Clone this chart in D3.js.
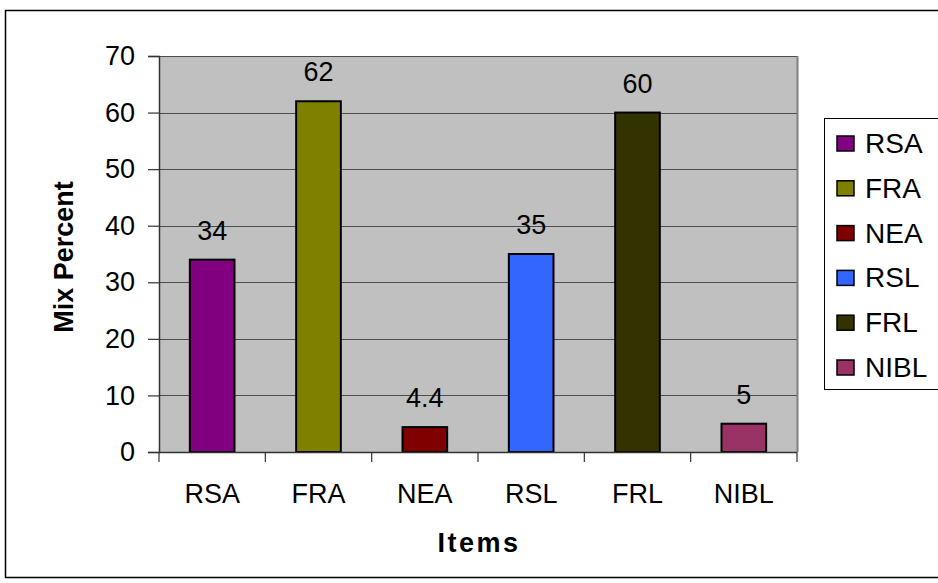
<!DOCTYPE html>
<html>
<head>
<meta charset="utf-8">
<script src="https://cdn.jsdelivr.net/npm/d3@7"></script>
<style>
  html, body { margin: 0; padding: 0; background: #fff; }
  svg { display: block; font-family: "Liberation Sans", Arial, sans-serif; }
</style>
</head>
<body>
<svg id="chart" width="938" height="583"></svg>
<script>
// Mix percentage per item
const categories = ["RSA", "FRA", "NEA", "RSL", "FRL", "NIBL"];
const values = [34, 62, 4.4, 35, 60, 5];
const colors = ["#800080", "#808000", "#800000", "#3366ff", "#333300", "#993366"];
const yTicks = [0, 10, 20, 30, 40, 50, 60, 70];

const FS = 27;
const svg = d3.select("#chart");
const plot = { left: 159, right: 797, top: 56, bottom: 452 };

// outer frame
svg.append("rect")
  .attr("x", 5.5).attr("y", 10.5).attr("width", 940).attr("height", 567)
  .attr("fill", "#fff").attr("stroke", "#000").attr("stroke-width", 1.5);

const x = d3.scaleBand().domain(categories).range([plot.left, plot.right]).paddingInner(0).paddingOuter(0);
const y = d3.scaleLinear().domain([0, 70]).range([plot.bottom, plot.top]);

// plot background
svg.append("rect")
  .attr("x", plot.left).attr("y", plot.top)
  .attr("width", plot.right - plot.left).attr("height", plot.bottom - plot.top)
  .attr("fill", "#c0c0c0");

// gridlines
svg.append("g").selectAll("line").data(yTicks.slice(1)).join("line")
  .attr("x1", plot.left).attr("x2", plot.right)
  .attr("y1", d => Math.round(y(d)) + 0.5).attr("y2", d => Math.round(y(d)) + 0.5)
  .attr("stroke", "#4d4d4d").attr("stroke-width", 1.2);

// right border of plot area
svg.append("line")
  .attr("x1", plot.right + 0.5).attr("x2", plot.right + 0.5)
  .attr("y1", plot.top).attr("y2", plot.bottom)
  .attr("stroke", "#808080").attr("stroke-width", 2);

// bars
const barW = x.bandwidth() * 0.42;
svg.append("g").selectAll("rect").data(categories).join("rect")
  .attr("x", d => x(d) + (x.bandwidth() - barW) / 2)
  .attr("y", (d, i) => y(values[i]))
  .attr("width", barW)
  .attr("height", (d, i) => y(0) - y(values[i]))
  .attr("fill", (d, i) => colors[i])
  .attr("stroke", "#000").attr("stroke-width", 2);

// value labels
svg.append("g").selectAll("text").data(categories).join("text")
  .attr("x", d => x(d) + x.bandwidth() / 2)
  .attr("y", (d, i) => y(values[i]) - 20)
  .attr("text-anchor", "middle")
  .attr("font-size", FS)
  .attr("fill", "#000")
  .text((d, i) => values[i]);

// y axis
const yAxis = d3.axisLeft(y).tickValues(yTicks).tickSize(11).tickPadding(13).tickFormat(d3.format("d"));
const gy = svg.append("g").attr("transform", `translate(${plot.left},0)`).call(yAxis);
gy.select(".domain").attr("stroke", "#333").attr("stroke-width", 1.5);
gy.selectAll(".tick line").attr("stroke", "#333").attr("stroke-width", 1.2);
gy.selectAll(".tick text").attr("font-size", FS).attr("fill", "#000")
  .attr("font-family", "Liberation Sans, Arial, sans-serif");

// x axis: ticks sit on the category boundaries
const gx = svg.append("g").attr("transform", `translate(0,${plot.bottom})`);
gx.append("line").attr("x1", plot.left).attr("x2", plot.right)
  .attr("y1", 0.5).attr("y2", 0.5).attr("stroke", "#333").attr("stroke-width", 1.5);
const boundaries = categories.map(c => x(c)).concat([plot.right]);
gx.selectAll("line.tk").data(boundaries).join("line").attr("class", "tk")
  .attr("x1", d => d).attr("x2", d => d).attr("y1", 0).attr("y2", 10)
  .attr("stroke", "#333").attr("stroke-width", 1.2);
gx.selectAll("text").data(categories).join("text")
  .attr("x", d => x(d) + x.bandwidth() / 2)
  .attr("y", 51)
  .attr("text-anchor", "middle")
  .attr("font-size", FS).attr("fill", "#000")
  .text(d => d);

// axis titles
svg.append("text")
  .attr("x", 479).attr("y", 552)
  .attr("text-anchor", "middle")
  .attr("font-size", FS).attr("font-weight", "bold")
  .attr("letter-spacing", 2.5)
  .text("Items");
svg.append("text")
  .attr("transform", "translate(73,257) rotate(-90)")
  .attr("text-anchor", "middle")
  .attr("font-size", 27).attr("font-weight", "bold")
  .text("Mix Percent");

// legend
const legend = svg.append("g");
legend.append("rect")
  .attr("x", 824.5).attr("y", 118.5).attr("width", 130).attr("height", 271)
  .attr("fill", "#fff").attr("stroke", "#000").attr("stroke-width", 1);
const ly = d3.scalePoint().domain(categories).range([143, 367]);
const items = legend.selectAll("g.item").data(categories).join("g").attr("class", "item");
items.append("rect")
  .attr("x", 837).attr("y", d => ly(d) - 7)
  .attr("width", 17).attr("height", 15)
  .attr("fill", (d, i) => colors[i]).attr("stroke", "#000").attr("stroke-width", 1.5);
items.append("text")
  .attr("x", 865).attr("y", d => ly(d) + 10)
  .attr("font-size", 28).attr("fill", "#000")
  .text(d => d);
</script>
</body>
</html>
